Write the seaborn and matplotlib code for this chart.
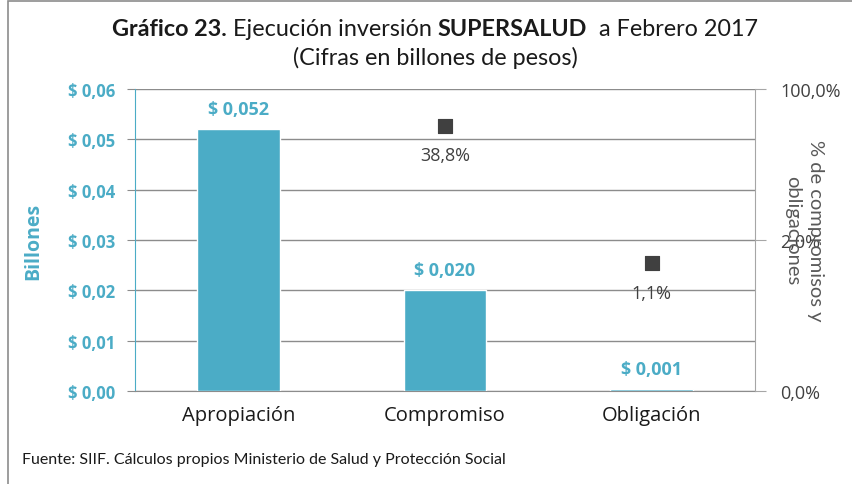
import matplotlib
matplotlib.use('agg')
import matplotlib.pyplot as plt
import seaborn as sns
from matplotlib.patches import Rectangle

# data
categories = ['Apropiación', 'Compromiso', 'Obligación']
billones = [0.052, 0.020, 0.0004]
bar_labels = ['$ 0,052', '$ 0,020', '$ 0,001']
pct_cats = ['Compromiso', 'Obligación']
pct_values = [0.388, 0.011]
pct_labels = ['38,8%', '1,1%']
left_ticks = [0.0, 0.01, 0.02, 0.03, 0.04, 0.05, 0.06]
left_ticklabels = ['$ 0,00', '$ 0,01', '$ 0,02', '$ 0,03', '$ 0,04', '$ 0,05', '$ 0,06']
right_ticks = [0.0004, 0.02, 1.0]
right_ticklabels = ['0,0%', '2,0%', '100,0%']

BLUE = '#4BACC6'
DARK = '#404040'
GRID = '#8C8C8C'

sns.set_style('white')
plt.rcParams['font.family'] = ['Open Sans', 'DejaVu Sans']

fig = plt.figure(figsize=(8.52, 4.85), dpi=100)
ax = fig.add_axes([0.1585, 0.1918, 0.7277, 0.6227])

sns.barplot(x=categories, y=billones, color=BLUE, width=0.4, saturation=1,
            ax=ax, zorder=3)
ax.set_ylim(0, 0.06)
ax.set_xlim(-0.5, 2.5)
ax.set_yticks(left_ticks)
ax.set_yticklabels(left_ticklabels, color=BLUE, fontweight='bold', fontsize=12)
ax.yaxis.grid(True, color=GRID, linewidth=1)
ax.set_axisbelow(True)
ax.tick_params(axis='y', length=6, color=GRID, pad=8)
ax.set_xticks([0, 1, 2])
ax.set_xticklabels(categories, fontsize=14.5, color='#1a1a1a')
ax.set_xticks([0.5, 1.5], minor=True)
ax.tick_params(axis='x', which='major', length=0, pad=10)
ax.tick_params(axis='x', which='minor', length=6, color=GRID)
ax.set_xlabel('')
ax.set_ylabel('Billones', color=BLUE, fontweight='bold', fontsize=14, labelpad=18)

ax.spines['top'].set_visible(False)
ax.spines['left'].set_color(BLUE)
ax.spines['bottom'].set_color(GRID)
ax.spines['right'].set_visible(False)

for i, (v, lab) in enumerate(zip(billones, bar_labels)):
    ax.annotate(lab, (i, v), xytext=(0, 8), textcoords='offset points',
                ha='center', va='bottom', color=BLUE, fontweight='bold', fontsize=13)

# secondary axis (log, base 50 like the original)
ax2 = ax.twinx()
ax2.set_yscale('log', base=50)
ax2.set_ylim(0.0004, 1.0)
pct_x = [categories.index(c) for c in pct_cats]
sns.scatterplot(x=pct_x, y=pct_values, marker='s', s=105, color=DARK,
                edgecolor=DARK, ax=ax2, zorder=4)
ax2.set_xlim(-0.5, 2.5)
ax2.set_yticks(right_ticks)
ax2.set_yticklabels(right_ticklabels, color=DARK, fontsize=13)
ax2.yaxis.set_minor_locator(matplotlib.ticker.NullLocator())
ax2.tick_params(axis='y', length=8, color='#A6A6A6', pad=10)
for s in ['top', 'left', 'bottom']:
    ax2.spines[s].set_visible(False)
ax2.spines['right'].set_color('#A6A6A6')
ax2.set_ylabel('')

for x, v, lab in zip(pct_x, pct_values, pct_labels):
    ax2.annotate(lab, (x, v), xytext=(0, -15), textcoords='offset points',
                 ha='center', va='top', color=DARK, fontsize=13)

fig.text(804 / 852, 1 - 231 / 485, '% de compromisos y\nobligaciones', rotation=-90,
         color='#595959', fontsize=14.5, family=['Lato', 'DejaVu Sans'],
         ha='center', va='center', linespacing=1.45, multialignment='center')

# title with mixed weights
title_font = ['Lato', 'DejaVu Sans']
parts = [('Gráfico 23.', 'bold'), (' Ejecución inversión ', 'normal'),
         ('SUPERSALUD', 'bold'), ('  a Febrero 2017', 'normal')]
renderer = fig.canvas.get_renderer()
texts = []
for txt, w in parts:
    t = fig.text(0, 1 - 30 / 485, txt, fontsize=16.8, fontweight=w, family=title_font,
                 ha='left', va='center', color='#1a1a1a')
    texts.append(t)
widths = [t.get_window_extent(renderer).width for t in texts]
x0 = 435 - sum(widths) / 2
for t, w in zip(texts, widths):
    t.set_x(x0 / 852)
    x0 += w
fig.text(435 / 852, 1 - 58 / 485, '(Cifras en billones de pesos)', fontsize=16.8,
         family=title_font, ha='center', va='center', color='#1a1a1a')

fig.text(22 / 852, 1 - 460 / 485,
         'Fuente: SIIF. Cálculos propios Ministerio de Salud y Protección Social',
         fontsize=11.5, family=title_font, ha='left', va='center', color='#1a1a1a')

fig.patches.append(Rectangle((8 / 852, -0.01), 1.0, 1 - 2 / 485 + 0.01,
                             transform=fig.transFigure, fill=False,
                             edgecolor='#8C8C8C', linewidth=1.2))

fig.savefig('out.png', dpi=100)
